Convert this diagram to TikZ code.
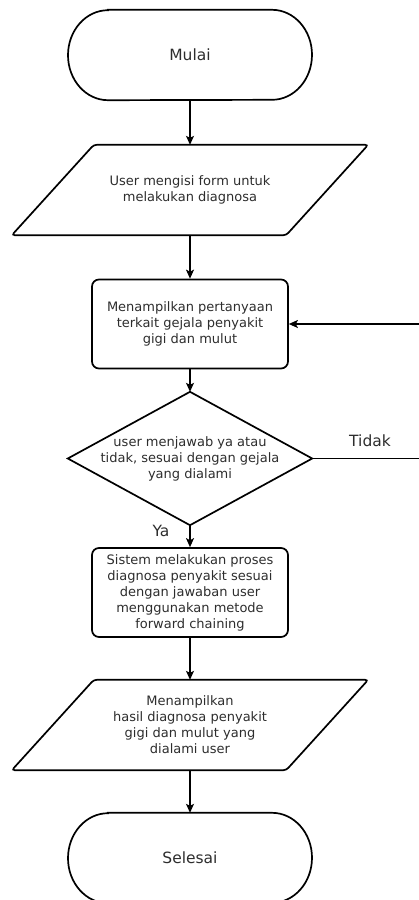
\documentclass[tikz,border=0pt]{standalone}
\usepackage{fontspec}
\setmainfont{DejaVu Sans}
\usetikzlibrary{arrows.meta}
\definecolor{txt}{RGB}{45,45,45}
\begin{document}
\begin{tikzpicture}[x=1pt,y=-1pt,
  outline/.style={draw=black,line width=1.7pt},
  boxtext/.style={align=center,text=txt,font=\fontsize{13}{16}\selectfont,inner sep=0pt},
  procbox/.style={boxtext,outline,rounded corners=7pt,minimum width=196pt,minimum height=89pt},
  iobox/.style={boxtext,minimum width=274pt,minimum height=90pt},
  termbox/.style={boxtext,font=\fontsize{15.5}{18}\selectfont,minimum width=244pt,minimum height=90pt},
  decbox/.style={boxtext,minimum width=244pt,minimum height=133pt},
  lbl/.style={text=txt,font=\fontsize{15.5}{18}\selectfont,inner sep=0pt},
  conn/.style={draw=black,line width=1.1pt,-{Stealth[length=9pt,width=8pt,inset=2pt]}}
]
\useasboundingbox (0,0) rectangle (419,900);

% nodes
\node[termbox] (start) at (190,55) {Mulai};
\node[iobox] (in1) at (190,190) {User mengisi form untuk\\melakukan diagnosa};
\node[procbox] (q) at (190,324) {Menampilkan pertanyaan\\terkait gejala penyakit\\gigi dan mulut};
\node[decbox] (d) at (190,458.5) {user menjawab ya atau\\tidak, sesuai dengan gejala\\yang dialami};
\node[procbox] (p) at (190,592.5) {Sistem melakukan proses\\diagnosa penyakit sesuai\\dengan jawaban user\\menggunakan metode\\forward chaining};
\node[iobox] (out) at (190,725) {Menampilkan\\hasil diagnosa penyakit\\gigi dan mulut yang\\dialami user};
\node[termbox] (end) at (190,858) {Selesai};

% terminator outlines
\draw[outline] ([xshift=-82pt]start.north) -- ([xshift=82pt]start.north)
  arc[start angle=-90,end angle=90,x radius=40,y radius=45]
  -- ([xshift=-82pt]start.south)
  arc[start angle=90,end angle=270,x radius=40,y radius=45] -- cycle;
\draw[outline] ([xshift=-82pt]end.north) -- ([xshift=82pt]end.north)
  arc[start angle=-90,end angle=90,x radius=40,y radius=45]
  -- ([xshift=-82pt]end.south)
  arc[start angle=90,end angle=270,x radius=40,y radius=45] -- cycle;

% parallelogram outlines
\draw[outline,rounded corners=3pt] ([xshift=41pt]in1.north west) -- ([xshift=41pt]in1.north east)
  -- ([xshift=-41pt]in1.south east) -- ([xshift=-41pt]in1.south west) -- cycle;
\draw[outline,rounded corners=3pt] ([xshift=41pt]out.north west) -- ([xshift=41pt]out.north east)
  -- ([xshift=-41pt]out.south east) -- ([xshift=-41pt]out.south west) -- cycle;

% decision outline
\draw[outline,line join=miter] (d.north) -- (d.east) -- (d.south) -- (d.west) -- cycle;

% connectors
\draw[conn] (start.south) -- (in1.north);
\draw[conn] (in1.south) -- (q.north);
\draw[conn] (q.south) -- (d.north);
\draw[conn] (d.south) -- (p.north);
\draw[conn] (p.south) -- (out.north);
\draw[conn] (out.south) -- (end.north);

% feedback loop (vertical part lies just beyond the right edge)
\coordinate (loopA) at (421,458.5);
\coordinate (loopB) at (421,324);
\draw[conn] (d.east) -- (loopA) -- (loopB) -- (q.east);

% labels
\node[lbl] (tidak) at (370,441) {Tidak};
\node[lbl] (ya) at (161,531) {Ya};
\end{tikzpicture}
\end{document}
